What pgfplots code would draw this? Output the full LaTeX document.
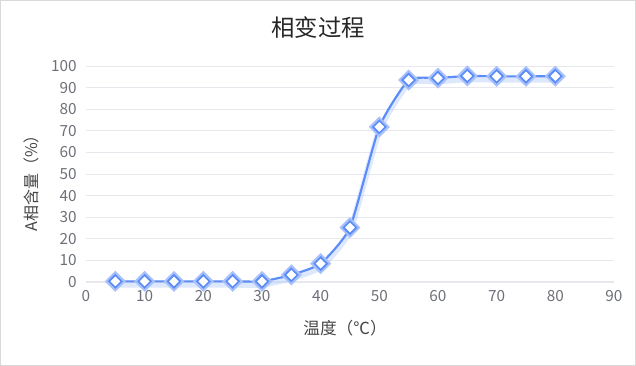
\documentclass[border=0pt]{standalone}
\usepackage{pgfplots}
\pgfplotsset{compat=1.18}
\usepackage{fontspec}
\setmainfont{Noto Sans CJK SC}
\definecolor{linec}{HTML}{5B8CF7}
\definecolor{halo}{HTML}{A9C1FB}
\definecolor{gridc}{HTML}{E6E8EE}
\definecolor{tickc}{HTML}{6E7079}
\definecolor{labc}{HTML}{464646}
\begin{document}
\begin{tikzpicture}
\useasboundingbox (0,0) rectangle (477pt,274.5pt);
\draw[gray!30,line width=0.75pt] (0.375pt,0.375pt) rectangle (476.625pt,274.125pt);
\begin{axis}[
  at={(64.5pt,63pt)}, anchor=south west,
  scale only axis, width=396pt, height=162pt,
  xmin=0, xmax=90, ymin=0, ymax=100,
  xtick={0,10,...,90}, ytick={0,10,...,100},
  axis x line*=bottom, axis y line*=left,
  x axis line style={draw=gridc, line width=0.8pt, -},
  y axis line style={draw=none},
  ymajorgrids, grid style={draw=gridc, line width=0.6pt},
  major tick length=0pt,
  tick label style={font=\fontsize{11.5}{13}\selectfont, text=tickc},
  /pgf/number format/assume math mode=true,
  xticklabel style={yshift=-3pt},
  yticklabel style={xshift=-3.5pt},
  clip=false,
]
\addplot[draw=linec!50, opacity=0.4, line width=4.5pt, smooth, tension=0.3, yshift=-2.5pt, forget plot] coordinates {
(5,0.3)(10,0.3)(15,0.3)(20,0.3)(25,0.3)(30,0.3)(35,3.3)(40,8.5)(45,25.2)(50,71.8)(55,93.5)(60,94.4)(65,95.4)(70,95.2)(75,95.2)(80,95.3)};
\addplot[draw=linec, line width=1.6pt, smooth, tension=0.3,
  mark=square*, mark size=4.9pt,
  mark options={rotate=45, fill=white, draw=halo, line width=1.4pt, solid}] coordinates {
(5,0.3)(10,0.3)(15,0.3)(20,0.3)(25,0.3)(30,0.3)(35,3.3)(40,8.5)(45,25.2)(50,71.8)(55,93.5)(60,94.4)(65,95.4)(70,95.2)(75,95.2)(80,95.3)};
\addplot[draw=none, mark=square*, mark size=3.4pt,
  mark options={rotate=45, fill=white, draw=linec, line width=1.4pt, solid}] coordinates {
(5,0.3)(10,0.3)(15,0.3)(20,0.3)(25,0.3)(30,0.3)(35,3.3)(40,8.5)(45,25.2)(50,71.8)(55,93.5)(60,94.4)(65,95.4)(70,95.2)(75,95.2)(80,95.3)};
\end{axis}
\node[font=\fontsize{17.5}{20}\selectfont, text=black!85] at (238.5pt,253.5pt) {相变过程};
\node[font=\fontsize{12}{14}\selectfont, text=labc, rotate=90] at (23.25pt,140pt) {A相含量（\%）};
\node[font=\fontsize{12.5}{14}\selectfont, text=labc] at (258.75pt,28.5pt) {温度（℃）};
\end{tikzpicture}
\end{document}
